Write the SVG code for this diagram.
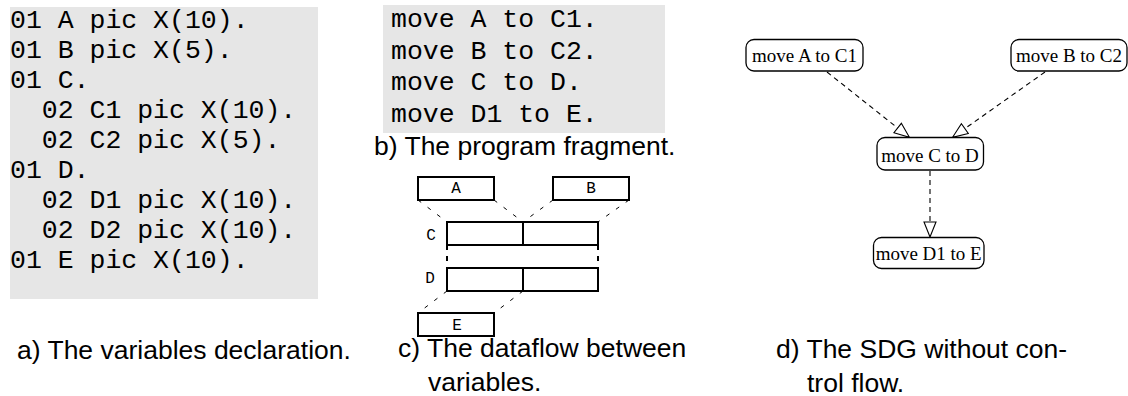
<svg xmlns="http://www.w3.org/2000/svg" width="1128" height="396" viewBox="0 0 1128 396">
<style>
.code{font-family:"Liberation Mono","Courier New",monospace;font-size:26.5px;fill:#000}
.cap{font-family:"Liberation Sans",Arial,sans-serif;font-size:26.5px;fill:#000}
.grey{fill:#e6e6e6}
.box{fill:none;stroke:#000;stroke-width:2}
.lbl{font-family:"Liberation Mono","Courier New",monospace;font-size:16px;fill:#000;text-anchor:middle}
.df{stroke:#000;stroke-width:1;stroke-dasharray:4 8;fill:none}
.node rect{fill:#fff;stroke:#000;stroke-width:1.3}
.node text{font-family:"Liberation Serif","Times New Roman",serif;font-size:19px;fill:#000;text-anchor:middle}
.edge{stroke:#000;stroke-width:1.1;stroke-dasharray:5 4;fill:none;marker-end:url(#tri)}
</style>
<defs>
<marker id="tri" markerUnits="userSpaceOnUse" markerWidth="18" markerHeight="14" refX="14.5" refY="6" orient="auto" viewBox="-1 -1 18 14">
<path d="M0,0 L15,6 L0,12 Z" fill="#fff" stroke="#000" stroke-width="1.1" stroke-linejoin="miter"/>
</marker>
</defs>
<rect width="1128" height="396" fill="#fff"/>

<g id="declaration">
<rect class="grey" x="10" y="7" width="308" height="292"/>
<text class="code" x="10" y="28">01 A pic X(10).</text>
<text class="code" x="10" y="58">01 B pic X(5).</text>
<text class="code" x="10" y="88">01 C.</text>
<text class="code" x="41.8" y="118">02 C1 pic X(10).</text>
<text class="code" x="41.8" y="148">02 C2 pic X(5).</text>
<text class="code" x="10" y="178">01 D.</text>
<text class="code" x="41.8" y="208">02 D1 pic X(10).</text>
<text class="code" x="41.8" y="238">02 D2 pic X(10).</text>
<text class="code" x="10" y="268">01 E pic X(10).</text>
<text class="cap" x="17" y="359">a) The variables declaration.</text>
</g>

<g id="fragment">
<rect class="grey" x="383" y="5" width="282" height="128"/>
<text class="code" x="391" y="27">move A to C1.</text>
<text class="code" x="391" y="58.5">move B to C2.</text>
<text class="code" x="391" y="90">move C to D.</text>
<text class="code" x="391" y="121.5">move D1 to E.</text>
<text class="cap" x="374" y="155">b) The program fragment.</text>
</g>

<g id="dataflow">
<g id="df-links">
<line class="df" x1="418" y1="200" x2="447" y2="222"/>
<line class="df" x1="494" y1="200" x2="523" y2="222"/>
<line class="df" x1="553" y1="200" x2="523" y2="222"/>
<line class="df" x1="629" y1="200" x2="598" y2="222"/>
<line class="df" x1="447" y1="245" x2="447" y2="268" style="stroke-width:2;stroke-dasharray:5 6"/>
<line class="df" x1="598" y1="245" x2="598" y2="268" style="stroke-width:2;stroke-dasharray:5 6"/>
<line class="df" x1="447" y1="291" x2="418" y2="313"/>
<line class="df" x1="523" y1="291" x2="494" y2="313"/>
</g>
<g id="var-A"><rect class="box" x="418" y="177" width="76" height="23"/><text class="lbl" x="456" y="193">A</text></g>
<g id="var-B"><rect class="box" x="553" y="177" width="76" height="23"/><text class="lbl" x="591" y="193">B</text></g>
<g id="var-C"><rect class="box" x="447" y="222" width="151" height="23"/><line x1="523" y1="222" x2="523" y2="245" stroke="#000" stroke-width="2"/><text class="lbl" x="431" y="240">C</text></g>
<g id="var-D"><rect class="box" x="447" y="268" width="151" height="23"/><line x1="523" y1="268" x2="523" y2="291" stroke="#000" stroke-width="2"/><text class="lbl" x="430" y="283">D</text></g>
<g id="var-E"><rect class="box" x="418" y="313" width="76" height="23"/><text class="lbl" x="457" y="330">E</text></g>
<text class="cap" x="398" y="357">c) The dataflow between</text>
<text class="cap" x="428" y="391">variables.</text>
</g>

<g id="sdg">
<g id="edges">
<line class="edge" x1="827" y1="72" x2="909" y2="137"/>
<line class="edge" x1="1045" y1="72" x2="953" y2="137"/>
<line class="edge" x1="930" y1="171" x2="930" y2="236.5"/>
</g>
<g id="n1" class="node"><rect x="746" y="39.5" width="117" height="31.5" rx="8"/><text x="804.5" y="61.5">move A to C1</text></g>
<g id="n2" class="node"><rect x="1011" y="39.5" width="116" height="31.5" rx="8"/><text x="1069" y="61.5">move B to C2</text></g>
<g id="n3" class="node"><rect x="877" y="137.5" width="106.5" height="32.5" rx="8"/><text x="930" y="161.5">move C to D</text></g>
<g id="n4" class="node"><rect x="873.5" y="237.5" width="110.5" height="31" rx="8"/><text x="928.7" y="260">move D1 to E</text></g>
<text class="cap" x="776" y="358">d) The SDG without con-</text>
<text class="cap" x="807" y="392">trol flow.</text>
</g>
</svg>
